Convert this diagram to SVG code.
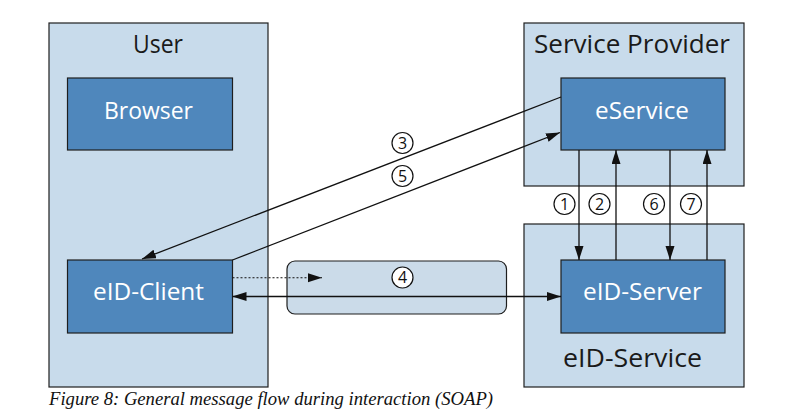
<svg xmlns="http://www.w3.org/2000/svg" width="795" height="419" viewBox="0 0 795 419">
  <style>
    .outer { fill: #c8dbeb; stroke: #1e1e1e; stroke-width: 1.2; }
    .inner { fill: #4f87bc; stroke: #1e1e1e; stroke-width: 1.2; }
    .chan { fill: #cbdbe9; stroke: #1e1e1e; stroke-width: 1.2; }
    .title { font-family: "Open Sans", "Noto Sans", sans-serif; font-size: 25px; fill: #1a1a1a; text-anchor: middle; }
    .lbl { font-family: "Open Sans", "Noto Sans", sans-serif; font-size: 24px; fill: #ffffff; text-anchor: middle; }
    .conn { stroke: #111; stroke-width: 1.3; fill: none; }
    .dot { stroke: #111; stroke-width: 1.1; fill: none; stroke-dasharray: 2 2; }
    .num circle { fill: #ffffff; stroke: #111; stroke-width: 1.2; }
    .num text { font-family: "Open Sans", "Noto Sans", sans-serif; font-size: 16px; fill: #111; text-anchor: middle; }
    .cap { font-family: "Liberation Serif", serif; font-style: italic; font-size: 19px; fill: #111; }
  </style>
  <defs>
    <marker id="ah" markerUnits="userSpaceOnUse" markerWidth="14" markerHeight="10" refX="14" refY="4.5" orient="auto-start-reverse">
      <path d="M0,0 L14,4.5 L0,9 z" fill="#111"/>
    </marker>
  </defs>
  <rect width="795" height="419" fill="#ffffff"/>

  <g id="user">
    <rect class="outer" x="49" y="23" width="219" height="364"/>
    <text class="title" x="158" y="53" textLength="50" lengthAdjust="spacingAndGlyphs">User</text>
  </g>
  <g id="service-provider">
    <rect class="outer" x="524" y="23" width="220" height="163"/>
    <text class="title" x="632" y="53" textLength="196" lengthAdjust="spacingAndGlyphs">Service Provider</text>
  </g>
  <g id="eid-service">
    <rect class="outer" x="524" y="224" width="220" height="163"/>
    <text class="title" x="632.5" y="367" textLength="139" lengthAdjust="spacingAndGlyphs">eID-Service</text>
  </g>
  <g id="channel">
    <rect class="chan" x="287" y="261" width="219.5" height="53" rx="8" ry="8"/>
  </g>
  <g id="browser">
    <rect class="inner" x="67.5" y="78" width="165" height="72"/>
    <text class="lbl" x="148.5" y="119" textLength="89" lengthAdjust="spacingAndGlyphs">Browser</text>
  </g>
  <g id="eservice">
    <rect class="inner" x="561" y="78" width="164" height="72"/>
    <text class="lbl" x="642" y="119" textLength="94" lengthAdjust="spacingAndGlyphs">eService</text>
  </g>
  <g id="eid-client">
    <rect class="inner" x="67.5" y="260" width="165" height="73"/>
    <text class="lbl" x="148.5" y="300" textLength="111" lengthAdjust="spacingAndGlyphs">eID-Client</text>
  </g>
  <g id="eid-server">
    <rect class="inner" x="561" y="260" width="164" height="73"/>
    <text class="lbl" x="642.5" y="300" textLength="119" lengthAdjust="spacingAndGlyphs">eID-Server</text>
  </g>

  <g id="connectors">
    <line class="conn" x1="561" y1="97" x2="142" y2="259" marker-end="url(#ah)"/>
    <line class="conn" x1="232.5" y1="260" x2="560" y2="132.5" marker-end="url(#ah)"/>
    <line class="conn" x1="579" y1="150" x2="579" y2="260" marker-end="url(#ah)"/>
    <line class="conn" x1="616" y1="260" x2="616" y2="150" marker-end="url(#ah)"/>
    <line class="conn" x1="670" y1="150" x2="670" y2="260" marker-end="url(#ah)"/>
    <line class="conn" x1="707" y1="260" x2="707" y2="150" marker-end="url(#ah)"/>
    <line class="dot" x1="232.5" y1="277.7" x2="322" y2="277.7" marker-end="url(#ah)"/>
    <line class="conn" x1="232.5" y1="296.5" x2="561" y2="296.5" marker-start="url(#ah)" marker-end="url(#ah)"/>
  </g>

  <g id="labels">
    <g class="num"><circle cx="402.5" cy="143" r="10.5"/><text x="402.5" y="148.7">3</text></g>
    <g class="num"><circle cx="402.5" cy="176" r="10.5"/><text x="402.5" y="181.7">5</text></g>
    <g class="num"><circle cx="402.5" cy="277.5" r="10.5"/><text x="402.5" y="283.2">4</text></g>
    <g class="num"><circle cx="564.5" cy="204" r="10.5"/><text x="564.5" y="209.7">1</text></g>
    <g class="num"><circle cx="599.5" cy="204" r="10.5"/><text x="599.5" y="209.7">2</text></g>
    <g class="num"><circle cx="654" cy="204" r="10.5"/><text x="654" y="209.7">6</text></g>
    <g class="num"><circle cx="691" cy="204" r="10.5"/><text x="691" y="209.7">7</text></g>
  </g>

  <text class="cap" x="49" y="405" textLength="444" lengthAdjust="spacingAndGlyphs">Figure 8: General message flow during interaction (SOAP)</text>
</svg>
